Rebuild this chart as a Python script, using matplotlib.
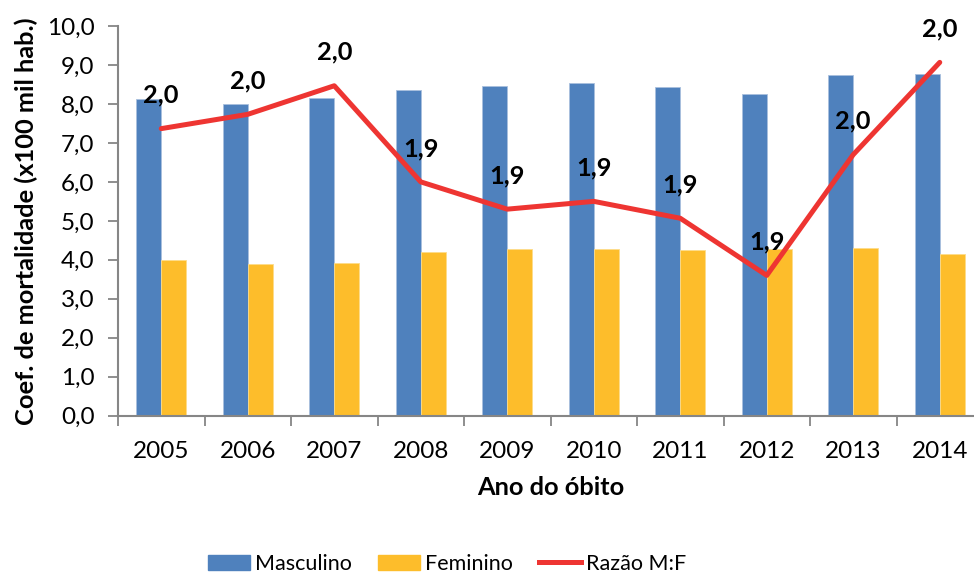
import numpy as np
import matplotlib
matplotlib.use('Agg')
import matplotlib.pyplot as plt
from matplotlib.patches import Patch
from matplotlib.lines import Line2D

plt.rcParams['font.family'] = ['Lato', 'DejaVu Sans']

years = ['2005', '2006', '2007', '2008', '2009', '2010', '2011', '2012', '2013', '2014']
masculino = [8.12, 7.99, 8.14, 8.37, 8.47, 8.53, 8.44, 8.25, 8.73, 8.77]
feminino = [3.99, 3.90, 3.93, 4.19, 4.28, 4.28, 4.26, 4.28, 4.30, 4.16]
razao = [1.971, 1.982, 2.004, 1.930, 1.909, 1.915, 1.902, 1.858, 1.951, 2.022]

c_masc = '#4F81BD'
c_fem = '#FDBD2B'
c_line = '#EE3532'
grey = '#868686'
fs_tick = 17.5
fs_bold = 18.3
fs_leg = 15.5

fig = plt.figure(figsize=(9.74, 5.72), dpi=100)
ax = fig.add_axes([118 / 974, 1 - 415.7 / 572, 865 / 974, (415.7 - 26) / 572])

x = np.arange(len(years))
w = 0.29
ax.bar(x - w / 2, masculino, w, color=c_masc, edgecolor='#A9C0DE', linewidth=0.6)
ax.bar(x + w / 2, feminino, w, color=c_fem, edgecolor='#FDDC8A', linewidth=0.6)

ax.set_xlim(-0.5, len(years) - 0.5)
ax.set_ylim(0, 10)
ax.set_yticks(np.arange(0, 10.01, 1))
ax.set_yticklabels([f'{v:.1f}'.replace('.', ',') for v in np.arange(0, 10.01, 1)], fontsize=fs_tick)
ax.set_xticks(x)
ax.set_xticklabels(years, fontsize=fs_tick)
ax.set_xticks(np.arange(-0.5, len(years), 1), minor=True)
ax.tick_params(axis='x', which='major', length=0, pad=18)
ax.tick_params(axis='x', which='minor', length=7, width=1.3, color=grey, direction='out')
ax.tick_params(axis='y', length=7, width=1.3, color=grey, direction='out', pad=10)
for s in ['top', 'right']:
    ax.spines[s].set_visible(False)
for s in ['left', 'bottom']:
    ax.spines[s].set_color(grey)
    ax.spines[s].set_linewidth(1.5)

ax.set_ylabel('Coef. de mortalidade (x100 mil hab.)', fontsize=fs_bold, fontweight='bold', labelpad=6)
ax.set_xlabel('Ano do óbito', fontsize=fs_bold, fontweight='bold', labelpad=10)

# ratio on a hidden secondary axis
ax2 = ax.twinx()
ax2.set_ylim(1.75, 2.05)
ax2.plot(x, razao, color=c_line, linewidth=3.6, solid_capstyle='round')
ax2.axis('off')
for xi, r in zip(x, razao):
    ax2.annotate(f'{r:.1f}'.replace('.', ','), (xi, r), xytext=(0, 24), textcoords='offset points',
                 ha='center', va='center', fontsize=fs_bold, fontweight='bold')

handles = [Patch(color=c_masc), Patch(color=c_fem), Line2D([], [], color=c_line, linewidth=3.6)]
fig.legend(handles, ['Masculino', 'Feminino', 'Razão M:F'], loc='lower center',
           bbox_to_anchor=(447 / 974, -0.037), ncol=3, frameon=False, fontsize=fs_leg,
           handlelength=1.95, handletextpad=0.25, columnspacing=1.2)

fig.savefig('out.png', dpi=100)
